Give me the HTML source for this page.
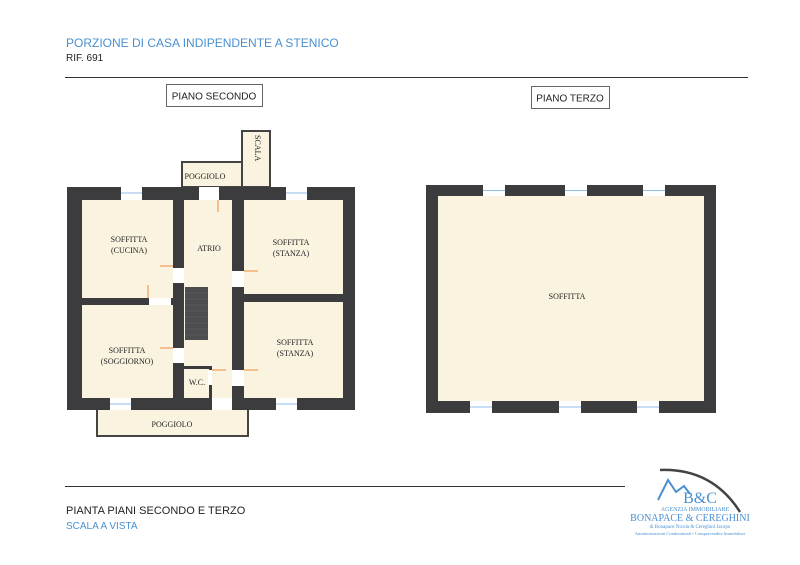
<!DOCTYPE html>
<html><head><meta charset="utf-8"><style>
body{margin:0;background:#fff;}
svg{display:block;}
text{font-family:"Liberation Serif",serif;}
.s{font-family:"Liberation Sans",sans-serif;}
</style></head><body>
<svg width="800" height="565" viewBox="0 0 800 565" xmlns="http://www.w3.org/2000/svg">
<rect width="800" height="565" fill="#fff"/>
<text class="s" x="66" y="47" font-size="12" fill="#4a90d0">PORZIONE DI CASA INDIPENDENTE A STENICO</text>
<text class="s" x="66" y="61" font-size="10" fill="#222">RIF. 691</text>
<line x1="65" y1="77.5" x2="748" y2="77.5" stroke="#333" stroke-width="1"/>
<rect x="166.5" y="84.5" width="96" height="22" fill="#fff" stroke="#666"/>
<text class="s" x="214" y="99.5" font-size="10" text-anchor="middle" fill="#222">PIANO SECONDO</text>
<rect x="531.5" y="86.5" width="78" height="22" fill="#fff" stroke="#666"/>
<text class="s" x="570" y="101.5" font-size="10" text-anchor="middle" fill="#222">PIANO TERZO</text>

<g>
<rect x="182" y="162" width="66" height="25" fill="#faf3e0" stroke="#444" stroke-width="2"/>
<rect x="242" y="131" width="28" height="56" fill="#faf3e0" stroke="#444" stroke-width="2"/>
<rect x="243" y="160" width="26" height="4" fill="#faf3e0"/>
<text x="205" y="179" font-size="8" text-anchor="middle" fill="#222">POGGIOLO</text>
<text x="0" y="0" font-size="8" fill="#222" transform="translate(255,135) rotate(90)">SCALA</text>
<rect x="97" y="408" width="151" height="28" fill="#faf3e0" stroke="#444" stroke-width="2"/>
<text x="172" y="427" font-size="8" text-anchor="middle" fill="#222">POGGIOLO</text>
<rect x="67" y="187" width="288" height="223" fill="#3c3c3e"/>
<rect x="82" y="200" width="91" height="98" fill="#faf3e0"/>
<rect x="82" y="305" width="91" height="93" fill="#faf3e0"/>
<rect x="184" y="200" width="48" height="198" fill="#faf3e0"/>
<rect x="244" y="200" width="99" height="94" fill="#faf3e0"/>
<rect x="244" y="302" width="99" height="96" fill="#faf3e0"/>
<rect x="184" y="366" width="25" height="3" fill="#3c3c3e"/>
<rect x="209" y="366" width="3" height="32" fill="#3c3c3e"/>
<g fill="#4d4d50"><rect x="185" y="287" width="23" height="53"/></g>
<g stroke="#666" stroke-width="0.6"><line x1="185" y1="293" x2="208" y2="293"/><line x1="185" y1="299" x2="208" y2="299"/><line x1="185" y1="305" x2="208" y2="305"/><line x1="185" y1="311" x2="208" y2="311"/><line x1="185" y1="317" x2="208" y2="317"/><line x1="185" y1="323" x2="208" y2="323"/><line x1="185" y1="329" x2="208" y2="329"/><line x1="185" y1="335" x2="208" y2="335"/></g>
<g fill="#fff"><rect x="121" y="187" width="21" height="13"/><rect x="286" y="187" width="21" height="13"/><rect x="199" y="187" width="20" height="13"/>
<rect x="110" y="398" width="21" height="12"/><rect x="276" y="398" width="21" height="12"/><rect x="212" y="398" width="20" height="12"/>
<rect x="173" y="268" width="11" height="15"/><rect x="149" y="298" width="22" height="7"/><rect x="173" y="348" width="11" height="15"/>
<rect x="232" y="271" width="12" height="16"/><rect x="232" y="370" width="12" height="16"/><rect x="208" y="370" width="4" height="15"/></g>
<g stroke="#6aa8e0" stroke-width="0.8"><line x1="121" y1="193" x2="142" y2="193"/><line x1="286" y1="193" x2="307" y2="193"/><line x1="110" y1="404" x2="131" y2="404"/><line x1="276" y1="404" x2="297" y2="404"/></g>
<g stroke="#f08a3c" stroke-width="1" fill="none"><line x1="218" y1="200" x2="218" y2="212"/><line x1="160" y1="266" x2="173" y2="266"/><line x1="148" y1="285" x2="148" y2="298"/><line x1="160" y1="348" x2="173" y2="348"/><line x1="244" y1="271" x2="258" y2="271"/><line x1="244" y1="370" x2="258" y2="370"/><line x1="212" y1="370" x2="226" y2="370"/></g>
<g font-size="8" fill="#222" text-anchor="middle">
<text x="129" y="242">SOFFITTA</text><text x="129" y="253">(CUCINA)</text>
<text x="209" y="251">ATRIO</text>
<text x="291" y="245">SOFFITTA</text><text x="291" y="256">(STANZA)</text>
<text x="127" y="353">SOFFITTA</text><text x="127" y="364">(SOGGIORNO)</text>
<text x="295" y="345">SOFFITTA</text><text x="295" y="356">(STANZA)</text>
<text x="197" y="385">W.C.</text>
</g>
</g>

<rect x="426" y="185" width="290" height="228" fill="#3c3c3e"/>
<rect x="438" y="196" width="266" height="205" fill="#faf3e0"/>
<g fill="#fff"><rect x="483" y="185" width="22" height="11"/><rect x="565" y="185" width="22" height="11"/><rect x="643" y="185" width="22" height="11"/>
<rect x="470" y="401" width="22" height="12"/><rect x="559" y="401" width="22" height="12"/><rect x="637" y="401" width="22" height="12"/></g>
<g stroke="#6aa8e0" stroke-width="0.8"><line x1="483" y1="190.5" x2="505" y2="190.5"/><line x1="565" y1="190.5" x2="587" y2="190.5"/><line x1="643" y1="190.5" x2="665" y2="190.5"/><line x1="470" y1="407" x2="492" y2="407"/><line x1="559" y1="407" x2="581" y2="407"/><line x1="637" y1="407" x2="659" y2="407"/></g>
<text x="567" y="299" font-size="8" text-anchor="middle" fill="#222">SOFFITTA</text>

<line x1="65" y1="486.5" x2="625" y2="486.5" stroke="#333" stroke-width="1"/>
<text class="s" x="66" y="514" font-size="11" fill="#222">PIANTA PIANI SECONDO E TERZO</text>
<text class="s" x="66" y="529" font-size="10" fill="#4a90d0">SCALA A VISTA</text>

<g>
<path d="M660 470 Q712 468 740 512" fill="none" stroke="#444" stroke-width="2.5"/>
<path d="M658 500 L668 480 L676 492 L684 486 L690 494" fill="none" stroke="#4a90d0" stroke-width="2"/>
<text x="700" y="503" font-size="16" fill="#4a90d0" text-anchor="middle">B&amp;C</text>
<text x="695" y="511" font-size="6" fill="#4a90d0" text-anchor="middle">AGENZIA IMMOBILIARE</text>
<text x="690" y="521" font-size="10" fill="#4a90d0" text-anchor="middle">BONAPACE &amp; CEREGHINI</text>
<text x="690" y="528" font-size="5" fill="#4a90d0" text-anchor="middle">di Bonapace Nicola &amp; Cereghini Jacopo</text>
<text x="690" y="535" font-size="4.5" fill="#4a90d0" text-anchor="middle">Amministrazioni Condominiali • Compravendite Immobiliari</text>
</g>
</svg>
</body></html>
